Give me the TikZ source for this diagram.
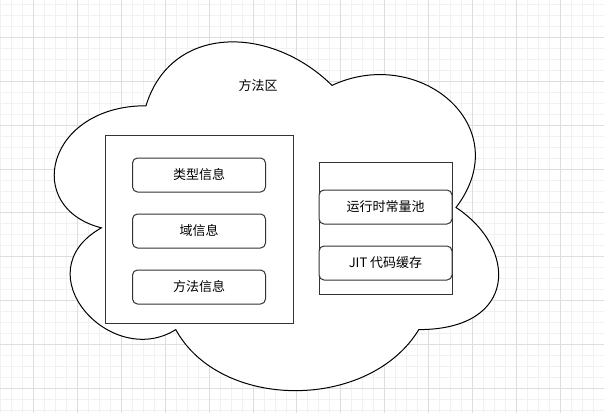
\documentclass[tikz,border=0pt]{standalone}
\usepackage{fontspec}
\newfontfamily\cjk{Noto Sans CJK SC}
\usetikzlibrary{positioning}
\definecolor{my_grid}{RGB}{222, 222, 222}
\definecolor{my_gridfine}{RGB}{241, 241, 241}
\definecolor{my_line}{RGB}{51, 51, 51}
\tikzset {
  bigbox/.style = {draw=my_line, fill=white, rectangle, inner sep=0pt},
  box/.style = {draw=my_line, fill=white, rounded corners=5pt, rectangle, minimum height=34pt, minimum width=133pt, inner sep=0pt, font=\cjk\fontsize{13}{15}\selectfont},
  cloudline/.style = {draw=black, fill=white},
  gridfine/.style = {draw=my_gridfine, line width=0.9pt},
  gridmain/.style = {draw=my_grid, line width=0.9pt},
  plain/.style = {font=\cjk\fontsize{13}{15}\selectfont}
}

\begin{document}
\begin{tikzpicture}[x=1pt, y=-1pt, node distance=21pt, line width=1pt]

    \useasboundingbox (0,0) rectangle (604,412);
    \fill[white] (0,0) rectangle (604,412);
    % background grid
    \begin{scope}
      \clip (0,0) rectangle (604,412);
      \draw[gridfine, shift={(0.6,4.4)}, step=10.975pt] (-12,-12) grid (620,430);
      \draw[gridmain, shift={(33.5,37.3)}, step=43.9pt] (-50,-50) grid (620,430);
    \end{scope}

    % cloud
    \begin{scope}[shift={(22,4)}, x=496pt, y=-407pt]
      \draw[cloudline] (0.25,0.25) .. controls (0.05,0.25) and (0,0.5) .. (0.16,0.55)
        .. controls (0,0.66) and (0.18,0.9) .. (0.31,0.8)
        .. controls (0.4,1) and (0.7,1) .. (0.8,0.8)
        .. controls (1,0.8) and (1,0.6) .. (0.875,0.5)
        .. controls (1,0.3) and (0.8,0.1) .. (0.625,0.2)
        .. controls (0.5,0.05) and (0.3,0.05) .. (0.25,0.25) -- cycle;
    \end{scope}

    \node[plain, name=area] (area) at (258,86) {方法区};

    \node[bigbox, minimum width=188pt, minimum height=188pt, name=classbox] (classbox) at (199,229) {};
    \node[box, name=typeinfo] (typeinfo) at (199,175) {类型信息};
    \node[box, name=fieldinfo, below=of typeinfo] (fieldinfo) {域信息};
    \node[box, name=methodinfo, below=of fieldinfo] (methodinfo) {方法信息};

    \node[bigbox, minimum width=133pt, minimum height=132pt, name=runbox] (runbox) at (385.5,228.5) {};
    \node[box, name=constpool] (constpool) at (385.5,207) {运行时常量池};
    \node[box, name=jitcache, below=of constpool] (jitcache) {JIT 代码缓存};

\end{tikzpicture}
\end{document}
